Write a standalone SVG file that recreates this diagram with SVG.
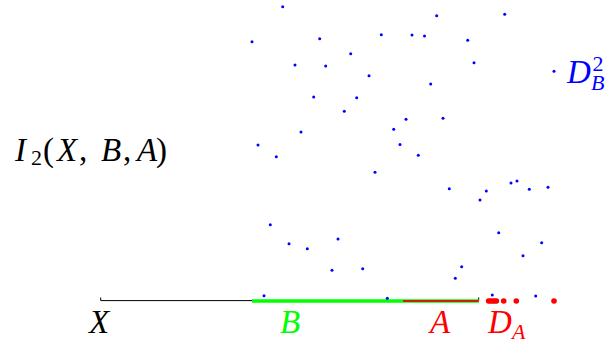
<svg xmlns="http://www.w3.org/2000/svg" width="606" height="343" viewBox="0 0 606 343">
<style>
.i{font-style:italic}
.s{font-size:22px}
.b circle{fill:#0000ff}
.r circle{fill:#ff0000}
</style>
<rect width="606" height="343" fill="#fff"/>
<g id="axis" fill="none">
<path d="M100.7 297.5V300.6H478.7V297.5" stroke="#000" stroke-width="1"/>
<path d="M252 301H478.7" stroke="#00ff00" stroke-width="3.6"/>
<path d="M403 301H478.7" stroke="#c8200a" stroke-width="1.8"/>
</g>
<g id="D_B" class="b">
<circle cx="282.7" cy="6.7" r="1.5"/><circle cx="436.7" cy="15.7" r="1.5"/><circle cx="504.7" cy="14.3" r="1.5"/>
<circle cx="252" cy="41.7" r="1.5"/><circle cx="319.7" cy="38.7" r="1.5"/><circle cx="381.3" cy="34.7" r="1.5"/>
<circle cx="412" cy="35" r="1.5"/><circle cx="424.5" cy="36" r="1.5"/><circle cx="467.7" cy="40.3" r="1.5"/>
<circle cx="350.7" cy="53.7" r="1.5"/><circle cx="295" cy="65" r="1.5"/><circle cx="325.7" cy="66" r="1.5"/>
<circle cx="369" cy="75.7" r="1.5"/><circle cx="474" cy="62.7" r="1.5"/><circle cx="554" cy="71.3" r="1.5"/>
<circle cx="430.7" cy="84" r="1.5"/><circle cx="313.7" cy="97" r="1.5"/><circle cx="356.7" cy="97.7" r="1.5"/>
<circle cx="344.3" cy="111.3" r="1.5"/><circle cx="406" cy="119.3" r="1.5"/><circle cx="443" cy="118.2" r="1.5"/>
<circle cx="301" cy="132" r="1.5"/><circle cx="393.7" cy="129.3" r="1.5"/><circle cx="258" cy="145" r="1.5"/>
<circle cx="400" cy="144.5" r="1.5"/><circle cx="276.3" cy="156.7" r="1.5"/><circle cx="418.3" cy="155.3" r="1.5"/>
<circle cx="375" cy="172.3" r="1.5"/><circle cx="449.3" cy="188.7" r="1.5"/><circle cx="486.3" cy="191" r="1.5"/>
<circle cx="480" cy="200" r="1.5"/><circle cx="511" cy="183" r="1.5"/><circle cx="517" cy="181" r="1.5"/>
<circle cx="529.3" cy="189.3" r="1.5"/><circle cx="548" cy="187.3" r="1.5"/><circle cx="270.3" cy="224.7" r="1.5"/>
<circle cx="289" cy="243.7" r="1.5"/><circle cx="307.3" cy="248.7" r="1.5"/><circle cx="338" cy="239" r="1.5"/>
<circle cx="332" cy="270.3" r="1.5"/><circle cx="362.7" cy="268.7" r="1.5"/><circle cx="264" cy="295.7" r="1.5"/>
<circle cx="387.3" cy="298.3" r="1.5"/><circle cx="498.7" cy="232.7" r="1.5"/><circle cx="541.7" cy="242.7" r="1.5"/>
<circle cx="523" cy="255.7" r="1.5"/><circle cx="461.7" cy="266.7" r="1.5"/><circle cx="455.3" cy="278.3" r="1.5"/>
<circle cx="492.3" cy="295" r="1.5"/><circle cx="535.7" cy="296" r="1.5"/>
</g>
<g id="D_A" class="r">
<circle cx="488.6" cy="301" r="2.8"/><circle cx="490.6" cy="301" r="2.8"/><circle cx="492.6" cy="301" r="2.8"/>
<circle cx="494.6" cy="301" r="2.8"/><circle cx="496.4" cy="301" r="2.8"/><circle cx="503.7" cy="301" r="2.8"/>
<circle cx="516.3" cy="301" r="2.8"/><circle cx="554" cy="301" r="2.8"/>
</g>
<g id="labels" font-family="'Liberation Serif', 'DejaVu Serif', serif" font-size="33">
<text id="lbl-I2" y="160.5"><tspan class="i" x="15">I</tspan><tspan class="s" x="31" y="164.5">2</tspan><tspan x="43" y="160.5">(</tspan><tspan class="i" x="57">X</tspan><tspan x="79">,</tspan><tspan class="i" x="101">B</tspan><tspan x="123">,</tspan><tspan class="i" x="137">A</tspan><tspan x="156">)</tspan></text>
<text id="lbl-DB2" fill="#0000ff" y="83.3"><tspan class="i" x="567">D</tspan><tspan class="s" x="592.5" y="70.5">2</tspan><tspan class="s i" x="591" y="90">B</tspan></text>
<text id="lbl-X" class="i" x="89" y="333.3">X</text>
<text id="lbl-B" class="i" x="280" y="333.3" fill="#00ff00">B</text>
<text id="lbl-A" class="i" x="430" y="333.3" fill="#ff0000">A</text>
<text id="lbl-DA" fill="#ff0000" y="333.3"><tspan class="i" x="488">D</tspan><tspan class="s i" x="512" y="338.5">A</tspan></text>
</g>
</svg>
